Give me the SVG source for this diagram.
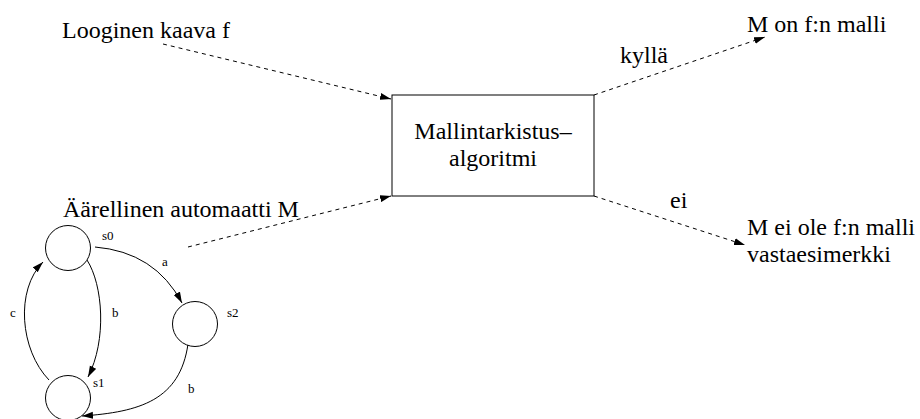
<svg xmlns="http://www.w3.org/2000/svg" width="920" height="419" viewBox="0 0 920 419">
  <style>
    .lbl { font-family: 'Liberation Serif', 'Times New Roman', Times, 'Nimbus Roman', 'DejaVu Serif', serif; font-size: 24px; fill: #000; }
    .sm { font-family: 'Liberation Serif', 'Times New Roman', Times, 'Nimbus Roman', 'DejaVu Serif', serif; font-size: 13px; fill: #000; }
    .dash { fill: none; stroke: #000; stroke-width: 1; stroke-dasharray: 4 4; }
    .solid { fill: none; stroke: #000; stroke-width: 1; }
    .state { fill: #fff; stroke: #000; stroke-width: 1; }
  </style>
  <defs>
    <marker id="arrow" markerUnits="userSpaceOnUse" markerWidth="12" markerHeight="8" refX="11" refY="4" orient="auto">
      <path d="M0,0.5 L11,4 L0,7.5 Z" fill="#000"/>
    </marker>
  </defs>
  <rect width="920" height="419" fill="#fff"/>

  <!-- connectors -->
  <g id="connectors">
    <path class="dash" d="M163,44 L391,99" marker-end="url(#arrow)"/>
    <path class="dash" d="M188,247 L391,196" marker-end="url(#arrow)"/>
    <path class="dash" d="M594,95 L765,37" marker-end="url(#arrow)"/>
    <path class="dash" d="M594,196 L745,245" marker-end="url(#arrow)"/>
    <path class="solid" d="M95,247 Q155,252 182,303" marker-end="url(#arrow)"/>
    <path class="solid" d="M87,260 C103,285 107,340 88,377" marker-end="url(#arrow)"/>
    <path class="solid" d="M49,380 C20,350 15,290 43,262" marker-end="url(#arrow)"/>
    <path class="solid" d="M188,344 C180,400 140,412 82,416" marker-end="url(#arrow)"/>
    <text class="lbl" x="620" y="63">kyllä</text>
    <text class="lbl" x="670" y="208">ei</text>
    <text class="sm" x="162" y="266">a</text>
    <text class="sm" x="112" y="317">b</text>
    <text class="sm" x="10" y="317">c</text>
    <text class="sm" x="188" y="393">b</text>
  </g>

  <g id="formula">
    <text class="lbl" x="62" y="38">Looginen kaava f</text>
  </g>

  <g id="checker">
    <rect x="392" y="95" width="202" height="101" fill="none" stroke="#000" stroke-width="1"/>
    <text class="lbl" x="493" y="139" text-anchor="middle">Mallintarkistus–</text>
    <text class="lbl" x="493" y="166" text-anchor="middle">algoritmi</text>
  </g>

  <g id="yes-result">
    <text class="lbl" x="747" y="32">M on f:n malli</text>
  </g>

  <g id="no-result">
    <text class="lbl" x="747" y="235">M ei ole f:n malli</text>
    <text class="lbl" x="747" y="262">vastaesimerkki</text>
  </g>

  <g id="automaton">
    <text class="lbl" x="63" y="217">Äärellinen automaatti M</text>
  </g>

  <g id="s0">
    <circle class="state" cx="68" cy="248" r="22.5"/>
    <text class="sm" x="102" y="240">s0</text>
  </g>
  <g id="s2">
    <circle class="state" cx="195" cy="324" r="22.5"/>
    <text class="sm" x="227" y="317">s2</text>
  </g>
  <g id="s1">
    <circle class="state" cx="68" cy="398" r="22.5"/>
    <text class="sm" x="93" y="387">s1</text>
  </g>
</svg>
